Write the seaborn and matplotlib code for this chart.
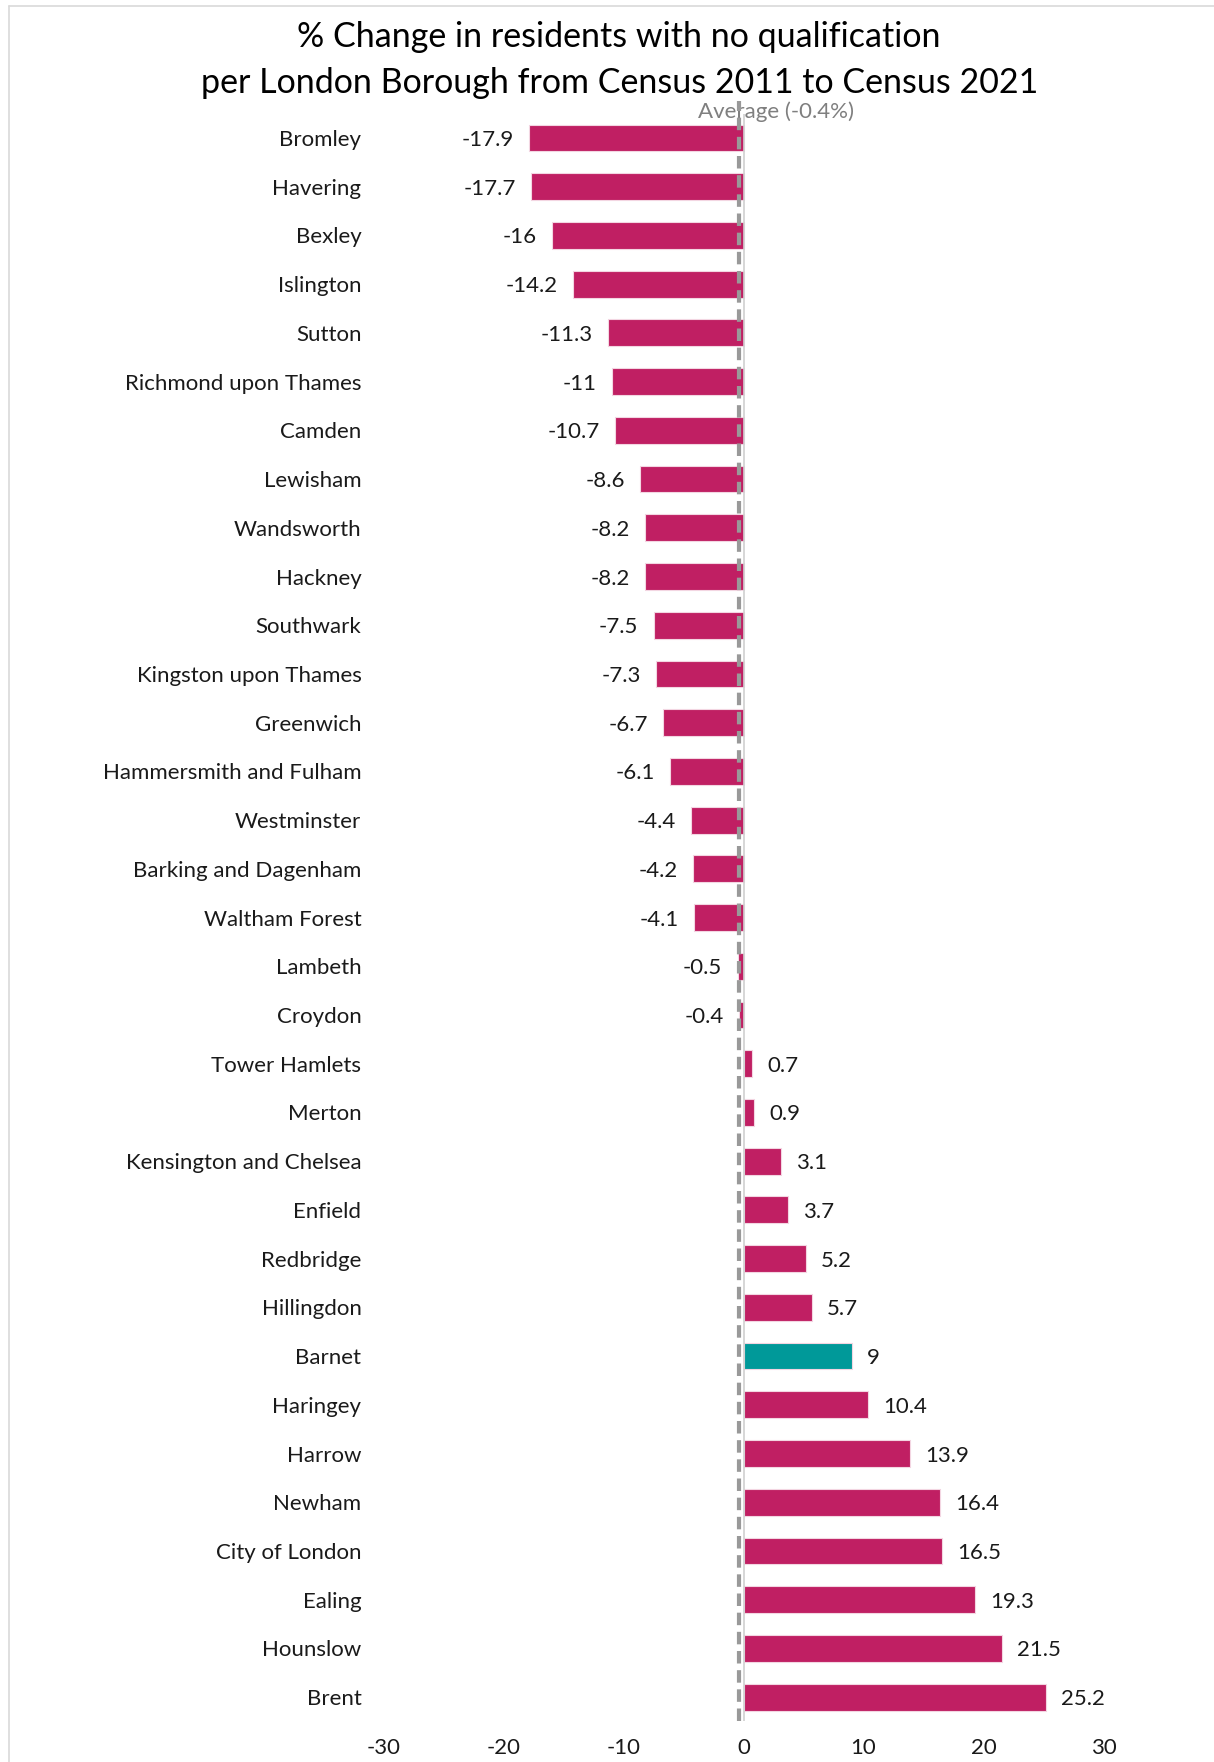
import pandas as pd
import matplotlib.pyplot as plt
import seaborn as sns
from matplotlib.lines import Line2D

# Datos
boroughs = ["Bromley", "Havering", "Bexley", "Islington", "Sutton", "Richmond upon Thames",
            "Camden", "Lewisham", "Wandsworth", "Hackney", "Southwark", "Kingston upon Thames",
            "Greenwich", "Hammersmith and Fulham", "Westminster", "Barking and Dagenham",
            "Waltham Forest", "Lambeth", "Croydon", "Tower Hamlets", "Merton",
            "Kensington and Chelsea", "Enfield", "Redbridge", "Hillingdon", "Barnet",
            "Haringey", "Harrow", "Newham", "City of London", "Ealing", "Hounslow", "Brent"]
change = [-17.9, -17.7, -16, -14.2, -11.3, -11, -10.7, -8.6, -8.2, -8.2, -7.5, -7.3,
          -6.7, -6.1, -4.4, -4.2, -4.1, -0.5, -0.4, 0.7, 0.9, 3.1, 3.7, 5.2, 5.7, 9,
          10.4, 13.9, 16.4, 16.5, 19.3, 21.5, 25.2]
labels = ["-17.9", "-17.7", "-16", "-14.2", "-11.3", "-11", "-10.7", "-8.6", "-8.2", "-8.2",
          "-7.5", "-7.3", "-6.7", "-6.1", "-4.4", "-4.2", "-4.1", "-0.5", "-0.4", "0.7",
          "0.9", "3.1", "3.7", "5.2", "5.7", "9", "10.4", "13.9", "16.4", "16.5", "19.3",
          "21.5", "25.2"]
average = -0.4
highlight = "Barnet"
x_ticks = [-30, -20, -10, 0, 10, 20, 30]

df = pd.DataFrame({"borough": boroughs, "change": change})
df["grupo"] = ["sel" if b == highlight else "otro" for b in boroughs]

sns.set_theme(style="white")
plt.rcParams["font.family"] = ["Lato", "DejaVu Sans"]
text_col = "#1a1a1a"

fig = plt.figure(figsize=(12.14, 17.62), dpi=100)
ax = fig.add_axes([0.316, 0.023, 0.593, 0.9125])

sns.barplot(data=df, y="borough", x="change", hue="grupo", orient="h",
            palette={"otro": "#C01F63", "sel": "#009999"}, saturation=1, width=0.55,
            edgecolor="#f3d6e2", linewidth=0.8, legend=False, ax=ax)

# Etiquetas de datos
for i, (v, t) in enumerate(zip(change, labels)):
    if v < 0:
        ax.annotate(t, (v, i), xytext=(-11, 0), textcoords="offset points",
                    ha="right", va="center_baseline", fontsize=16, color=text_col)
    else:
        ax.annotate(t, (v, i), xytext=(11, 0), textcoords="offset points",
                    ha="left", va="center_baseline", fontsize=16, color=text_col)

# Línea del cero y de la media
ax.axvline(0, color="#d0d0d0", lw=1.2, zorder=1)
ax.plot([average, average], [32.5, -0.75], color="#999999", lw=3,
        dashes=(3, 1.6), zorder=5, clip_on=False)
ax.text(2.7, -0.55, "Average (-0.4%)", ha="center", va="center", fontsize=16,
        color="#7f7f7f")

ax.set_xlim(-30, 30)
ax.set_ylim(32.5, -0.5)
ax.set_xticks(x_ticks)
ax.set_xticklabels([str(x) for x in x_ticks])
ax.set_xlabel("")
ax.set_ylabel("")
ax.tick_params(axis="y", length=0, pad=16, labelsize=16, labelcolor=text_col)
ax.tick_params(axis="x", length=0, pad=12, labelsize=16, labelcolor=text_col)
for s in ax.spines.values():
    s.set_visible(False)
ax.grid(False)

fig.text(0.51, 0.979, "% Change in residents with no qualification", ha="center",
         va="center", fontsize=24.5, color="#000000")
fig.text(0.51, 0.953, "per London Borough from Census 2011 to Census 2021", ha="center",
         va="center", fontsize=24.5, color="#000000")

# Marco claro de la imagen
fig.add_artist(Line2D([0.0074, 0.0074], [0, 0.9966], color="#d9d9d9", lw=1.2))
fig.add_artist(Line2D([0.0074, 1], [0.9966, 0.9966], color="#d9d9d9", lw=1.2))

fig.savefig("out.png", dpi=100)
